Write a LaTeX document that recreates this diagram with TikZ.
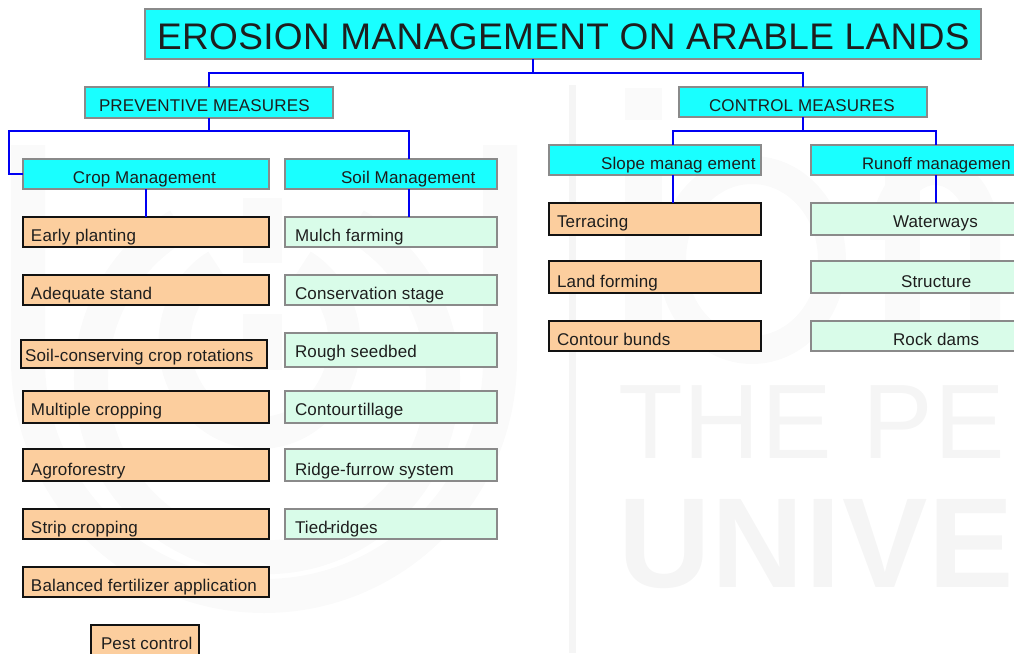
\documentclass[tikz,border=0pt]{standalone}
\usepackage{fontspec}
\setmainfont{Liberation Sans}[LetterSpace=1]
\definecolor{cy}{HTML}{19FFFF}
\definecolor{pe}{HTML}{FCCE9E}
\definecolor{mi}{HTML}{D9FCE9}
\definecolor{bd}{HTML}{8A8A8A}
\definecolor{wm}{HTML}{F5F5F5}
\definecolor{wl}{HTML}{FAFAFA}
\definecolor{tx}{HTML}{1E1E1E}
\newcommand\bx[9]{%
  \pgfmathsetlengthmacro\bw{(#5-#3)*1pt}%
  \pgfmathsetlengthmacro\bh{(#6-#4)*1pt}%
  \pgfmathsetlengthmacro\bd{(#7-#3)*1pt}%
  \pgfmathsetlengthmacro\bb{(#8-(#4+#6)/2)*1pt}%
  \node[#1,minimum width=\bw,minimum height=\bh] (#2) at ({(#3+#5)/2},{(#4+#6)/2})
    {\makebox[\bw][l]{\hspace*{\bd}\raisebox{-\bb}[0pt][0pt]{#9}}};}
\tikzset{
  every node/.style={inner sep=0pt,outer sep=0pt,text=tx,font=\fontsize{17}{19}\selectfont},
  head/.style={rectangle,draw=bd,fill=cy,line width=2pt},
  crop/.style={rectangle,draw=black!93,fill=pe,line width=2pt},
  soil/.style={rectangle,draw=bd,fill=mi,line width=2pt},
  conn/.style={draw=blue!95!black,line width=2pt,line join=miter},
  wmark/.style={draw=wl,line width=34pt,fill=none}
}
\begin{document}
\begin{tikzpicture}[x=1pt,y=-1pt]
\useasboundingbox (0,0) rectangle (1014,653);
\clip (0,0) rectangle (1014,653);
% faint watermark
\fill[wm] (569,85) rectangle (576,653);
\draw[wmark] (28,145) -- (28,360) arc[start angle=180,end angle=0,x radius=236,y radius=236] -- (500,145);
\draw[wmark] (355,225) arc[start angle=-60,end angle=240,x radius=176,y radius=178];
\draw[wmark,line width=32pt] (302,265) arc[start angle=-60,end angle=240,x radius=85,y radius=90];
\fill[wl] (243,198) rectangle (282,263);
\fill[wl] (243,314) rectangle (282,370);
\fill[wl] (625,88) rectangle (662,120);
\fill[wl] (625,145) rectangle (662,350);
\draw[wmark,line width=28pt] (752,260) circle[x radius=80,y radius=90];
\fill[wl] (885,145) rectangle (920,350);
\draw[wmark,line width=30pt] (985,350) -- (985,240) arc[start angle=0,end angle=-180,x radius=50,y radius=70];
\node[anchor=base west,text=wm,font=\fontsize{106}{110}\selectfont] (wa) at (618,458) {THE PE};
\node[anchor=base west,text=wm,font=\bfseries\fontsize{128}{130}\selectfont] (wb) at (618,587) {UNIVE};
% boxes
\bx{head}{title}{145}{9}{981}{59}{157}{50}{\fontsize{37}{40}\selectfont EROSION MANAGEMENT ON ARABLE LANDS}
\bx{head}{pm}{85}{87}{333}{118}{99}{111}{PREVENTIVE MEASURES}
\bx{head}{cm}{679}{87}{927}{117}{709}{111}{CONTROL MEASURES}
\bx{head}{cropm}{23}{159}{269}{189}{73}{183}{Crop Management}
\bx{head}{soilm}{285}{159}{497}{189}{341}{183}{Soil Management}
\bx{head}{slope}{549}{145}{761}{175}{601}{169}{Slope manag ement}
\bx{head}{runoff}{811}{145}{1060}{175}{862}{169}{\fontsize{16.7}{19}\selectfont Runoff managemen}
\bx{crop}{c1}{23}{217}{269}{247}{31}{241}{Early planting}
\bx{crop}{c2}{23}{275}{269}{305}{31}{299}{Adequate stand}
\bx{crop}{c3}{21}{340}{267}{368}{25}{361}{Soil-conserving crop rotations}
\bx{crop}{c4}{23}{391}{269}{423}{31}{415}{Multiple cropping}
\bx{crop}{c5}{23}{449}{269}{481}{31}{475}{Agroforestry}
\bx{crop}{c6}{23}{509}{269}{539}{31}{533}{Strip cropping}
\bx{crop}{c7}{23}{567}{269}{597}{31}{591}{Balanced fertilizer application}
\bx{crop}{c8}{91}{625}{199}{665}{101}{649}{Pest control}
\bx{soil}{s1}{285}{217}{497}{247}{295}{241}{Mulch farming}
\bx{soil}{s2}{285}{275}{497}{305}{295}{299}{Conservation stage}
\bx{soil}{s3}{285}{333}{497}{367}{295}{357}{Rough seedbed}
\bx{soil}{s4}{285}{391}{497}{423}{295}{415}{Contour\kern1.5pt tillage}
\bx{soil}{s5}{285}{449}{497}{481}{295}{475}{Ridge-furrow system}
\bx{soil}{s6}{285}{509}{497}{539}{295}{533}{Tied\kern-1.5pt-\kern-1.5pt ridges}
\bx{crop}{t1}{549}{203}{761}{235}{557}{227}{Terracing}
\bx{crop}{t2}{549}{261}{761}{293}{557}{287}{Land forming}
\bx{crop}{t3}{549}{321}{761}{351}{557}{345}{Contour bunds}
\bx{soil}{w1}{811}{203}{1060}{235}{893}{227}{Waterways}
\bx{soil}{w2}{811}{261}{1060}{293}{901}{287}{Structure}
\bx{soil}{w3}{811}{321}{1060}{351}{893}{345}{Rock dams}
% connectors
\coordinate (tj) at (533,73);
\coordinate (pj) at (9,131);
\coordinate (pr) at (409,131);
\coordinate (cj) at (673,131);
\draw[conn] (title.south -| tj) -- (tj);
\draw[conn] (pm.north) |- (tj) -| (cm.north);
\draw[conn] (pm.south) -- (pm.south |- pj);
\draw[conn] (cropm.west) -| (pj) -| (soilm.north -| pr);
\draw[conn] (cropm.south) -- (c1.north);
\draw[conn] (soilm.south -| pr) -- (s1.north -| pr);
\draw[conn] (cm.south) -- (cm.south |- cj);
\draw[conn] (slope.north -| cj) |- (cj) -| (runoff.north);
\draw[conn] (slope.south -| cj) -- (t1.north -| cj);
\draw[conn] (runoff.south) -- (w1.north);
\end{tikzpicture}
\end{document}
